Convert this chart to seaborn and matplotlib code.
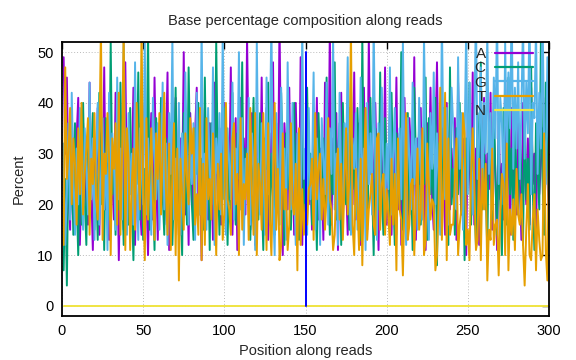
import numpy as np
import pandas as pd
import matplotlib
matplotlib.use("Agg")
import matplotlib.pyplot as plt
import seaborn as sns

bases = ["A", "C", "G", "T", "N"]
colors = ["#9400D3", "#009E73", "#56B4E9", "#E69F00", "#F0E442"]

A = [49, 30, 45, 22, 15, 38, 27, 18, 33, 41, 12, 25, 36, 20, 29, 16, 44, 23, 11, 31,
     26, 39, 14, 34, 21, 47, 19, 28, 13, 37, 24, 17, 42, 30, 9, 27, 35, 15, 48, 22,
     18, 31, 25, 43, 12, 29, 36, 20, 14, 33, 40, 23, 10, 28, 38, 17, 45, 26, 13, 32,
     21, 37, 16, 30, 46, 11, 24, 35, 19, 41, 27, 14, 33, 22, 50, 18, 29, 12, 38, 25,
     15, 34, 43, 20, 28, 9, 31, 39, 23, 17, 36, 26, 13, 44, 30, 21, 35, 16, 27, 40,
     19, 32, 24, 47, 14, 29, 37, 11, 25, 41, 22, 33, 18, 53, 28, 15, 38, 26, 12, 35,
     30, 20, 45, 17, 27, 39, 13, 34, 24, 48, 16, 31, 21, 56, 25, 10, 36, 29, 19, 43,
     22, 33, 14, 40, 26, 18, 49, 12, 30, 24, 37, 20, 28, 15, 35, 23, 41, 17, 31, 26,
     13, 44, 27, 21, 55, 16, 33, 25, 38, 11, 29, 42, 19, 34, 24, 14, 39, 28, 20, 46,
     17, 30, 36, 12, 27, 43, 22, 15, 53, 26, 32, 18, 40, 24, 11, 35, 29, 21, 47, 16,
     28, 38, 14, 31, 23, 45, 19, 34, 12, 27, 41, 25, 16, 37, 30, 20, 49, 13, 33, 24,
     39, 18, 29, 11, 36, 26, 43, 21, 15, 32, 48, 23, 17, 35, 28, 14, 40, 25, 19, 31,
     22, 37, 13, 44, 27, 18, 33, 25, 10, 38, 29, 20, 46, 16, 31, 24, 12, 35, 27, 41,
     19, 30, 23, 42, 15, 34, 26, 11, 37, 21, 28, 17, 45, 24, 32, 14, 39, 22, 29, 18,
     36, 25, 13, 40, 27, 20, 33, 16, 43, 24, 30, 12, 38, 22, 28, 35, 19, 41, 26, 17]

C = [7, 25, 4, 32, 18, 28, 14, 36, 22, 10, 30, 16, 40, 21, 12, 34, 19, 27, 38, 15,
     26, 13, 42, 20, 31, 11, 37, 24, 17, 52, 22, 29, 14, 35, 19, 44, 25, 12, 33, 28,
     16, 39, 21, 9, 30, 24, 46, 17, 34, 13, 27, 20, 55, 15, 32, 23, 11, 37, 26, 18,
     41, 22, 14, 33, 28, 19, 36, 12, 25, 43, 17, 30, 21, 10, 38, 24, 16, 47, 27, 20,
     13, 35, 26, 40, 18, 29, 15, 45, 22, 31, 11, 36, 24, 19, 52, 27, 14, 33, 21, 39,
     25, 12, 30, 18, 42, 23, 16, 34, 28, 20, 48, 15, 31, 24, 37, 13, 26, 41, 19, 29,
     17, 38, 22, 11, 33, 27, 44, 16, 30, 21, 14, 36, 25, 19, 42, 28, 12, 34, 23, 31,
     15, 27, 40, 20, 32, 13, 29, 36, 18, 25, 43, 22, 30, 16, 35, 24, 11, 38, 27, 20,
     33, 19, 45, 26, 14, 31, 22, 48, 17, 29, 36, 12, 40, 25, 20, 34, 15, 44, 23, 30,
     18, 39, 27, 13, 53, 21, 32, 16, 28, 41, 24, 10, 35, 30, 19, 46, 22, 14, 37, 26,
     31, 17, 42, 23, 12, 34, 28, 20, 50, 15, 33, 25, 38, 18, 27, 11, 43, 29, 21, 36,
     16, 30, 24, 45, 13, 37, 22, 28, 19, 41, 8, 32, 26, 15, 39, 23, 34, 12, 47, 20,
     27, 14, 35, 22, 40, 18, 29, 9, 33, 25, 44, 16, 31, 21, 12, 38, 26, 48, 19, 30,
     23, 11, 36, 27, 17, 42, 25, 14, 33, 20, 10, 39, 28, 16, 45, 22, 31, 13, 37, 24,
     18, 34, 26, 12, 40, 21, 29, 15, 47, 23, 11, 36, 27, 19, 52, 25, 14, 44, 30, 20]

G = [32, 12, 22, 36, 17, 42, 26, 14, 31, 20, 39, 24, 15, 35, 27, 18, 44, 21, 33, 13,
     29, 40, 16, 25, 37, 19, 30, 11, 42, 23, 34, 28, 15, 45, 21, 31, 17, 54, 26, 14,
     38, 22, 30, 16, 48, 24, 13, 35, 27, 20, 52, 18, 33, 25, 14, 41, 29, 21, 36, 15,
     27, 44, 19, 32, 12, 38, 26, 53, 17, 29, 23, 40, 14, 34, 21, 46, 28, 16, 31, 24,
     36, 13, 42, 25, 18, 55, 22, 30, 15, 39, 27, 20, 47, 12, 33, 26, 38, 18, 54, 23,
     14, 35, 28, 21, 44, 17, 31, 25, 50, 19, 37, 12, 29, 23, 41, 16, 34, 27, 11, 52,
     25, 18, 36, 29, 14, 45, 22, 33, 56, 20, 10, 38, 27, 16, 43, 24, 31, 13, 48, 26,
     19, 40, 23, 12, 34, 28, 17, 55, 25, 31, 14, 39, 21, 27, 46, 15, 33, 24, 12, 37,
     29, 22, 44, 16, 35, 26, 53, 19, 30, 12, 42, 24, 17, 36, 28, 49, 21, 14, 33, 27,
     38, 15, 26, 45, 20, 31, 11, 40, 24, 34, 18, 56, 27, 13, 36, 22, 43, 29, 16, 32,
     23, 47, 18, 30, 39, 14, 27, 35, 21, 52, 25, 12, 37, 29, 19, 44, 24, 33, 15, 41,
     26, 17, 53, 31, 22, 13, 38, 27, 46, 20, 34, 25, 14, 57, 30, 21, 39, 16, 28, 43,
     35, 24, 19, 49, 27, 38, 15, 32, 55, 22, 44, 29, 18, 37, 58, 25, 33, 47, 21, 40,
     30, 54, 26, 38, 19, 45, 33, 58, 24, 41, 36, 20, 52, 28, 46, 35, 60, 27, 43, 31,
     48, 25, 39, 56, 29, 44, 34, 59, 22, 40, 37, 55, 26, 42, 31, 58, 33, 24, 49, 30]

T = [12, 47, 25, 30, 39, 20, 33, 28, 16, 35, 22, 40, 18, 26, 31, 37, 14, 29, 24, 38,
     21, 17, 32, 55, 13, 30, 26, 38, 29, 10, 33, 27, 36, 16, 42, 14, 30, 55, 11, 35,
     29, 11, 24, 31, 15, 40, 28, 19, 55, 22, 9, 37, 17, 26, 35, 21, 13, 34, 25, 38,
     18, 30, 42, 23, 14, 32, 11, 27, 36, 10, 31, 5, 29, 22, 15, 34, 25, 20, 37, 30,
     35, 16, 22, 14, 39, 9, 28, 12, 37, 21, 25, 17, 34, 24, 10, 28, 19, 30, 13, 18,
     40, 21, 19, 14, 33, 36, 20, 26, 10, 37, 15, 24, 21, 30, 13, 39, 22, 14, 38, 10,
     28, 24, 15, 38, 25, 11, 36, 17, 10, 26, 40, 15, 27, 9, 12, 34, 19, 23, 11, 16,
     36, 20, 18, 28, 7, 35, 12, 23, 14, 20, 16, 23, 24, 29, 13, 38, 21, 27, 30, 17,
     25, 15, 22, 37, 21, 19, 11, 14, 26, 31, 17, 28, 13, 24, 35, 18, 25, 55, 16, 10,
     27, 20, 11, 29, 8, 25, 39, 13, 19, 22, 26, 16, 14, 33, 34, 15, 24, 26, 14, 23,
     18, 12, 29, 16, 26, 7, 33, 19, 17, 6, 21, 38, 13, 16, 24, 25, 10, 21, 31, 15,
     19, 35, 10, 13, 32, 24, 17, 21, 20, 7, 10, 20, 43, 13, 23, 42, 9, 33, 14, 16,
     16, 25, 33, 10, 16, 19, 38, 34, 12, 15, 9, 26, 35, 24, 11, 13, 29, 9, 27, 19,
     28, 5, 15, 13, 31, 12, 16, 17, 6, 18, 26, 24, 10, 32, 7, 19, 14, 21, 11, 27,
     18, 16, 22, 12, 4, 15, 24, 10, 9, 17, 22, 7, 19, 13, 9, 10, 34, 11, 5, 33]

N = [0] * 300

positions = list(range(1, 301))

frames = []
for b, vals in zip(bases, [A, C, G, T, N]):
    frames.append(pd.DataFrame({"Position": positions, "Percent": vals, "Base": b}))
df = pd.concat(frames, ignore_index=True)

sns.set_style("white")
plt.rcParams["font.family"] = ["Liberation Sans", "DejaVu Sans"]

fig = plt.figure(figsize=(5.76, 3.6), dpi=100)
ax = fig.add_axes([62 / 576, 1 - 316 / 360, 487 / 576, 274 / 360])

sns.lineplot(data=df, x="Position", y="Percent", hue="Base",
             palette=dict(zip(bases, colors)), linewidth=1.4,
             ax=ax, legend=True, sort=False, estimator=None)

ax.plot([150, 150], [0, 50], color="#0000FF", linewidth=1.4, zorder=3)

ax.set_xlim(0, 300)
ax.set_ylim(-2, 52)
ax.set_xticks(range(0, 301, 50))
ax.set_yticks(range(0, 51, 10))
ax.grid(True, color="#BBBBBB", linestyle=(0, (1, 2)), linewidth=0.7)
ax.tick_params(direction="in", top=True, right=True, length=5, width=1,
               labelsize=10.5, colors="black", pad=6)
for s in ax.spines.values():
    s.set_visible(True)
    s.set_color("black")
    s.set_linewidth(1.3)

ax.set_xlabel("Position along reads", fontsize=10.5, labelpad=4)
ax.set_ylabel("Percent", fontsize=10.5, labelpad=8)
ax.set_title("Base percentage composition along reads", fontsize=10.5, pad=12)

handles, labels = ax.get_legend_handles_labels()
leg = ax.legend(handles, labels, loc="upper right",
                bbox_to_anchor=((533 - 62) / 487, (316 - 47) / 274),
                frameon=False, markerfirst=False, handlelength=2.5,
                handletextpad=0.6, labelspacing=0.02, borderpad=0,
                borderaxespad=0, fontsize=11)
leg.set_zorder(5)
for line in leg.get_lines():
    line.set_linewidth(1.6)

fig.savefig("out.png", dpi=100)
